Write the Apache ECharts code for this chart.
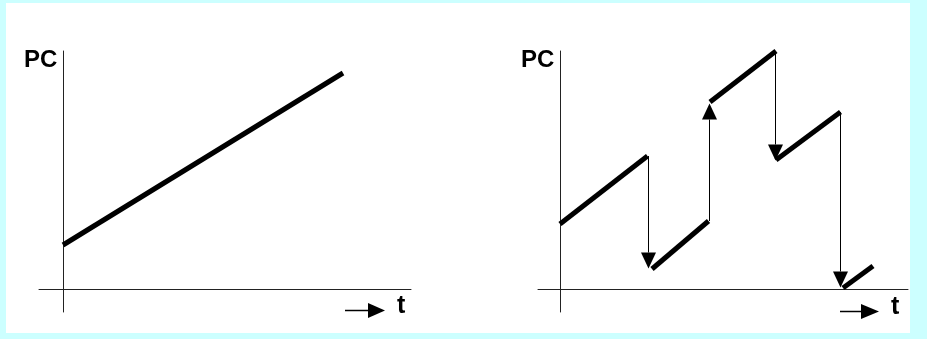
<!DOCTYPE html>
<html>
<head>
<meta charset="utf-8">
<script src="https://cdn.jsdelivr.net/npm/echarts@6/dist/echarts.min.js"></script>
<style>
  html, body { margin: 0; padding: 0; background: #ccffff; }
  #paper { position: absolute; left: 6px; top: 3px; width: 904px; height: 330px; background: #ffffff; }
  #chart { position: absolute; left: 0; top: 0; width: 927px; height: 339px; }
</style>
</head>
<body>
<div id="paper"></div>
<div id="chart"></div>
<script>
// ---- Data (t in time units, PC in address units) ----
// Left: sequential program counter (linear ramp)
const linearT  = [0, 28];
const linearPC = [4.4, 21.6];

// Right: program counter with jumps — ramp segments
const rampStartT  = [0,    9.2,  15.0, 21.6, 28.3];
const rampStartPC = [6.5,  2.0,  18.7, 12.9, 0.1];
const rampEndT    = [8.75, 14.85, 21.6, 28.05, 31.3];
const rampEndPC   = [13.3, 6.8,  23.8, 17.7, 2.3];

// Jumps (thin arrows): at time jumpT, PC goes from jumpFrom to jumpTo
const jumpT    = [8.75, 14.9, 21.5, 28.0];
const jumpFrom = [13.3, 6.8,  23.8, 17.7];
const jumpTo   = [2.05, 18.55, 12.85, 0.15];

// Axis labels
const yLabel = 'PC';
const xLabel = 't';

// ---- Chart ----
const chart = echarts.init(document.getElementById('chart'), null, { renderer: 'canvas' });

const axisCommon = {
  type: 'value',
  axisLine: { show: true, onZero: true, lineStyle: { color: '#222', width: 1 } },
  axisTick: { show: false },
  axisLabel: { show: false },
  splitLine: { show: false }
};

const series = [];
// left ramp
series.push({
  type: 'line', xAxisIndex: 0, yAxisIndex: 0, symbol: 'none', silent: true,
  lineStyle: { color: '#000', width: 5, cap: 'butt' },
  data: linearT.map((t, i) => [t, linearPC[i]])
});
// right ramps
rampStartT.forEach((t, i) => {
  series.push({
    type: 'line', xAxisIndex: 1, yAxisIndex: 1, symbol: 'none', silent: true,
    lineStyle: { color: '#000', width: 5, cap: 'butt' },
    data: [[t, rampStartPC[i]], [rampEndT[i], rampEndPC[i]]]
  });
});
// jump arrows
series.push({
  type: 'custom', xAxisIndex: 1, yAxisIndex: 1, silent: true,
  data: jumpT.map((t, i) => [t, jumpFrom[i], jumpTo[i]]),
  renderItem: function (params, api) {
    const p1 = api.coord([api.value(0), api.value(1)]);
    const p2 = api.coord([api.value(0), api.value(2)]);
    const dy = p2[1] > p1[1] ? 1 : -1;
    const headL = 16, headW = 7.5;
    const x = Math.round(p1[0]) + 0.5;
    const baseY = p2[1] - dy * headL;
    return {
      type: 'group',
      children: [
        { type: 'line', shape: { x1: x, y1: p1[1], x2: x, y2: baseY },
          style: { stroke: '#000', lineWidth: 1 } },
        { type: 'polygon', shape: { points: [[x - headW, baseY], [x + headW, baseY], [x, p2[1]]] },
          style: { fill: '#000' } }
      ]
    };
  }
});

const textStyle = { fill: '#000', fontFamily: 'Liberation Sans, Arial, sans-serif', fontWeight: 'bold' };

chart.setOption({
  animation: false,
  grid: [
    { left: 39, top: 51, width: 372, height: 261, containLabel: false },
    { left: 538, top: 51, width: 370, height: 261, containLabel: false }
  ],
  xAxis: [
    Object.assign({}, axisCommon, { gridIndex: 0, min: -2.4, max: 34.8 }),
    Object.assign({}, axisCommon, { gridIndex: 1, min: -2.2, max: 34.8 })
  ],
  yAxis: [
    Object.assign({}, axisCommon, { gridIndex: 0, min: -2.3, max: 23.8 }),
    Object.assign({}, axisCommon, { gridIndex: 1, min: -2.3, max: 23.8 })
  ],
  graphic: [
    { type: 'text', left: 24, top: 48, style: Object.assign({ text: yLabel, fontSize: 24 }, textStyle) },
    { type: 'text', left: 521, top: 48, style: Object.assign({ text: yLabel, fontSize: 24 }, textStyle) },
    // "→ t" markers
    { type: 'line', shape: { x1: 345, y1: 310.5, x2: 370, y2: 310.5 }, style: { stroke: '#000', lineWidth: 1.5 } },
    { type: 'polygon', shape: { points: [[368, 303], [385, 310.5], [368, 318]] }, style: { fill: '#000' } },
    { type: 'text', left: 397, top: 294, style: Object.assign({ text: xLabel, fontSize: 25 }, textStyle) },
    { type: 'line', shape: { x1: 840, y1: 311.5, x2: 863, y2: 311.5 }, style: { stroke: '#000', lineWidth: 1.5 } },
    { type: 'polygon', shape: { points: [[861, 304], [879, 311.5], [861, 319]] }, style: { fill: '#000' } },
    { type: 'text', left: 891, top: 295, style: Object.assign({ text: xLabel, fontSize: 25 }, textStyle) }
  ],
  series: series
});
</script>
</body>
</html>
